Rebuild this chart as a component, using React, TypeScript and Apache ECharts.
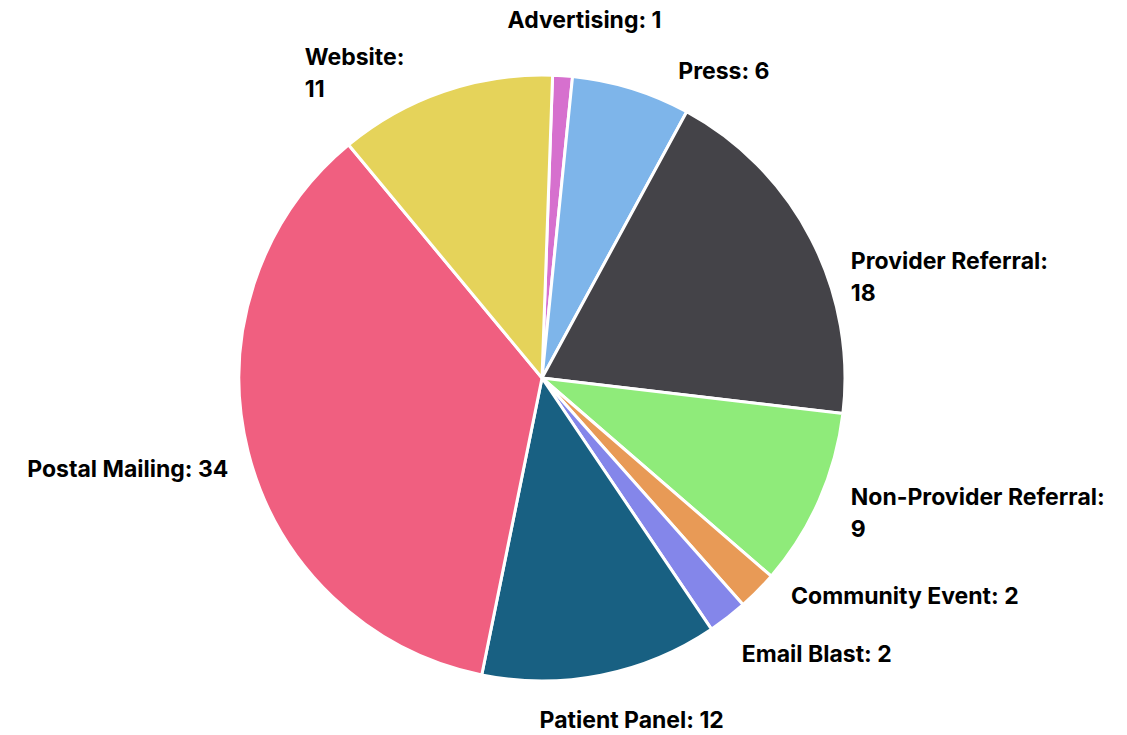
import React, { useEffect, useRef } from "react";
import * as echarts from "echarts";

// ---- data ----
const categories: string[] = [
  "Advertising",
  "Press",
  "Provider Referral",
  "Non-Provider Referral",
  "Community Event",
  "Email Blast",
  "Patient Panel",
  "Postal Mailing",
  "Website",
];
const values: number[] = [1, 6, 18, 9, 2, 2, 12, 34, 11];

// ---- styling (kept apart from the data) ----
const sliceColors: string[] = [
  "#D670CE",
  "#7EB5EA",
  "#444348",
  "#8FEB7A",
  "#E89A56",
  "#8486EA",
  "#186082",
  "#F05F80",
  "#E5D35A",
];
// whether the label wraps its value onto a second line
const wrapLabel: boolean[] = [false, false, true, true, false, false, false, false, true];
// nudges applied on top of ECharts' own outside-label placement
const labelAlign: (string | null)[] = ["center", null, null, null, null, null, "center", null, "left"];
const labelNudge: [number, number][] = [
  [15.6, -35.5],
  [36, 1.6],
  [16.9, 47.5],
  [8.2, 5.2],
  [14.2, -9],
  [-3.2, 20.5],
  [21.6, 25.5],
  [4.6, 12.5],
  [-127.9, 1.0],
];

export default function App() {
  const ref = useRef<HTMLDivElement>(null);

  useEffect(() => {
    if (!ref.current) return;
    const chart = echarts.init(ref.current, undefined, { renderer: "svg" });
    const data = categories.map((name, i) => ({
      name,
      value: values[i],
      itemStyle: { color: sliceColors[i] },
    }));
    chart.setOption({
      animation: false,
      backgroundColor: "#ffffff",
      series: [
        {
          type: "pie",
          center: [542, 378],
          radius: [0, 303],
          startAngle: 88,
          clockwise: true,
          avoidLabelOverlap: false,
          data,
          itemStyle: { borderColor: "#ffffff", borderWidth: 3 },
          label: {
            show: true,
            position: "outside",
            distanceToLabelLine: 5,
            color: "#000000",
            fontFamily: "Inter",
            fontWeight: "bold",
            fontSize: 23,
            lineHeight: 32,
            formatter: (p: any) =>
              wrapLabel[p.dataIndex] ? `${p.name}:\n${p.value}` : `${p.name}: ${p.value}`,
          },
          labelLine: { show: false, length: 20, length2: 0 },
          labelLayout: (p: any) => {
            const i = p.dataIndex;
            const out: any = { dx: labelNudge[i][0], dy: labelNudge[i][1] };
            if (labelAlign[i]) out.align = labelAlign[i];
            return out;
          },
          emphasis: { disabled: true },
        },
      ],
    });
    return () => chart.dispose();
  }, []);

  return (
    <div
      ref={ref}
      style={{ position: "fixed", left: 0, top: 0, width: 1127, height: 735, background: "#fff" }}
    />
  );
}
